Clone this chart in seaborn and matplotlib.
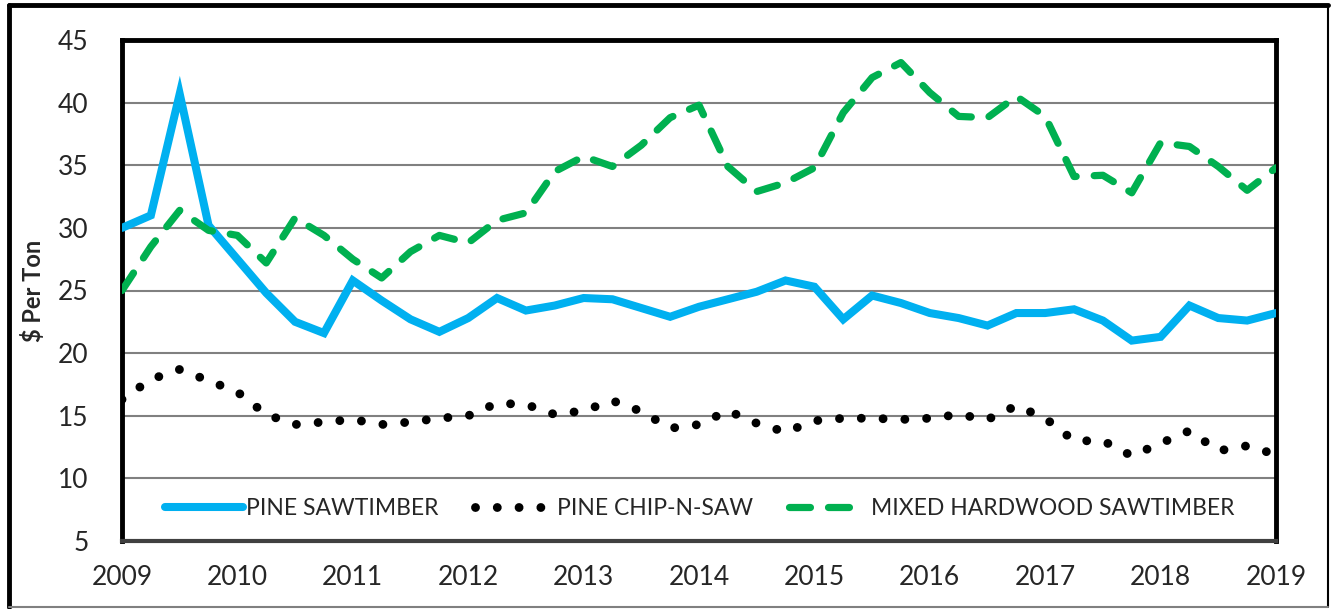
import matplotlib
matplotlib.use("Agg")
import matplotlib.pyplot as plt
import seaborn as sns
import numpy as np
import pandas as pd
from matplotlib.lines import Line2D

# ---- data (quarterly, 2009 Q1 .. 2019 Q1) ----
years = [2009 + 0.25 * i for i in range(41)]
pine_sawtimber = [30.0, 31.0, 40.7, 30.2, 27.5, 24.8, 22.5, 21.6, 25.8, 24.2,
                  22.7, 21.7, 22.8, 24.4, 23.4, 23.8, 24.4, 24.3, 23.6, 22.9,
                  23.7, 24.3, 24.9, 25.8, 25.3, 22.7, 24.6, 24.0, 23.2, 22.8,
                  22.2, 23.2, 23.2, 23.5, 22.6, 21.0, 21.3, 23.8, 22.8, 22.6, 23.2]
pine_chip_n_saw = [16.3, 17.9, 18.7, 17.8, 16.9, 15.1, 14.3, 14.5, 14.7, 14.3,
                   14.5, 14.8, 15.0, 16.0, 15.9, 15.1, 15.4, 16.2, 15.35, 14.0,
                   14.3, 15.4, 14.4, 13.7, 14.6, 14.8, 14.8, 14.7, 14.8, 15.1,
                   14.7, 15.8, 14.8, 13.0, 13.0, 11.8, 12.8, 13.8, 12.2, 12.6, 11.9]
mixed_hardwood = [25.0, 28.5, 31.4, 29.8, 29.4, 27.2, 30.8, 29.4, 27.5, 26.0,
                  28.1, 29.4, 28.8, 30.6, 31.2, 34.5, 35.7, 34.9, 36.6, 38.8,
                  39.8, 34.9, 32.9, 33.6, 34.8, 39.2, 42.0, 43.2, 40.8, 38.9,
                  38.8, 40.5, 38.9, 34.1, 34.2, 32.8, 36.8, 36.5, 34.9, 33.0, 34.8]
series_names = ["PINE SAWTIMBER", "PINE CHIP-N-SAW", "MIXED HARDWOOD SAWTIMBER"]
x_ticks = list(range(2009, 2020))
y_ticks = list(range(5, 50, 5))
y_label = "$ Per Ton"

sns.set_style("white")
plt.rcParams['font.family'] = ['Lato', 'DejaVu Sans']

fig = plt.figure(figsize=(13.32, 6.09), dpi=100)
ax = fig.add_axes([122/1332, 1 - 541/609, (1276-122)/1332, (541-40)/609])

df = pd.DataFrame({"year": years, "ps": pine_sawtimber,
                   "cns": pine_chip_n_saw, "mh": mixed_hardwood})

blue = "#00B0F0"
green = "#00B050"
dot_style = (0, (0.001, 2.45))
dash_style = (0, (2.9, 2.5))

sns.lineplot(data=df, x="year", y="ps", ax=ax, color=blue, lw=5.8,
             solid_capstyle="round", solid_joinstyle="miter", zorder=3)
sns.lineplot(data=df, x="year", y="cns", ax=ax, color="black", lw=6.4,
             linestyle=dot_style, dash_capstyle="round", zorder=3)
sns.lineplot(data=df, x="year", y="mh", ax=ax, color=green, lw=5.2,
             linestyle=dash_style, dash_capstyle="round", zorder=3)

ax.set_xlim(2009, 2019)
ax.set_ylim(5, 45)
ax.set_xticks(x_ticks)
ax.set_yticks(y_ticks)
ax.set_xticklabels([str(t) for t in x_ticks], fontsize=19)
ax.set_yticklabels([str(t) for t in y_ticks], fontsize=19)
ax.tick_params(axis="y", length=0, pad=24)
ax.tick_params(axis="x", length=8, width=1, color="#909090", direction="out", pad=9)
ax.set_xlabel("")
ax.set_ylabel(y_label, fontsize=17, fontweight="bold", family=["Lato", "DejaVu Sans"])
ax.yaxis.set_label_coords(-0.067, 0.5)

ax.yaxis.grid(True, color="#808080", lw=1.5)
ax.xaxis.grid(False)
ax.set_axisbelow(True)

for s in ["left", "top", "right"]:
    ax.spines[s].set_color("black")
    ax.spines[s].set_linewidth(3.5)
    ax.spines[s].set_visible(True)
ax.spines["bottom"].set_color("#404040")
ax.spines["bottom"].set_linewidth(3)
ax.spines["bottom"].set_visible(True)

handles = [
    Line2D([], [], color=blue, lw=5.8, solid_capstyle="round"),
    Line2D([], [], color="black", lw=6.4, linestyle=dot_style, dash_capstyle="round"),
    Line2D([], [], color=green, lw=5.2, linestyle=dash_style, dash_capstyle="round"),
]
leg = ax.legend(handles, series_names, loc="center left", bbox_to_anchor=(0.037, 0.064),
                ncol=3, frameon=False, fontsize=16.5, handlelength=3.4,
                handletextpad=0.15, columnspacing=1.6, borderpad=0, borderaxespad=0)

# outer chart frame
fig.add_artist(Line2D([9/1332, 9/1332], [2/609, 1 - 5/609], transform=fig.transFigure, color="black", lw=3.5))
fig.add_artist(Line2D([9/1332, 1328/1332], [1 - 5/609, 1 - 5/609], transform=fig.transFigure, color="black", lw=3.5))
fig.add_artist(Line2D([1328/1332, 1328/1332], [2/609, 1 - 5/609], transform=fig.transFigure, color="black", lw=1.5))
fig.add_artist(Line2D([9/1332, 1328/1332], [2/609, 2/609], transform=fig.transFigure, color="#808080", lw=1.5))

fig.savefig("out.png", dpi=100)
